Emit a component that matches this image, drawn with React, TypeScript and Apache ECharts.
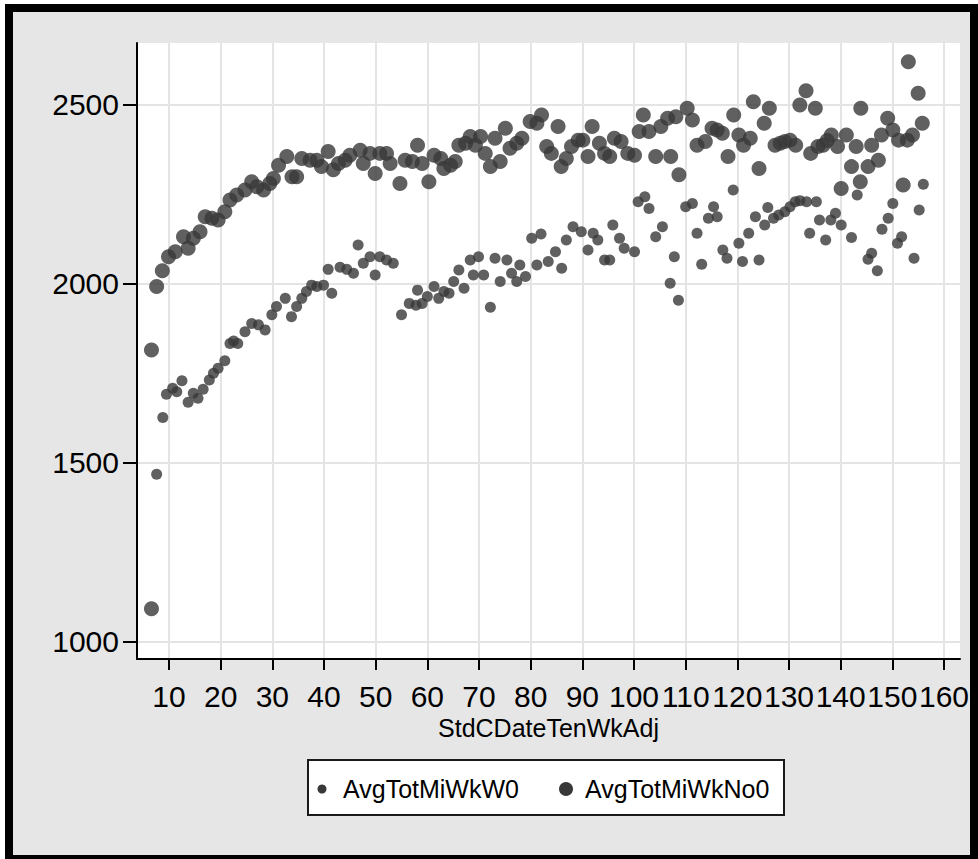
import { useEffect, useRef } from 'react';
import * as echarts from 'echarts';

const FONT = '"Liberation Sans", Arial, sans-serif';

const X_TICKS = [10, 20, 30, 40, 50, 60, 70, 80, 90, 100, 110, 120, 130, 140, 150, 160];
const Y_TICKS = [1000, 1500, 2000, 2500];
const X_MIN = 3.8;
const X_MAX = 163.1;
const Y_MIN = 951.7;
const Y_MAX = 2672.3;

const SERIES_W0 = 'AvgTotMiWkW0';
const SERIES_NO0 = 'AvgTotMiWkNo0';
const X_TITLE = 'StdCDateTenWkAdj';

// [StdCDateTenWkAdj, AvgTotMiWkW0]
const W0: [number, number][] = [
  [7.6, 1468], [8.8, 1626], [9.5, 1691], [10.7, 1708], [11.5, 1698], [12.5, 1729], [13.7, 1669],
  [14.7, 1694], [15.6, 1680], [16.6, 1705], [17.8, 1731], [18.6, 1750], [19.5, 1764], [20.8, 1785],
  [21.8, 1833], [22.5, 1840], [23.3, 1833], [24.7, 1866], [26.0, 1889], [27.3, 1885], [28.6, 1871],
  [29.9, 1913], [30.8, 1936], [32.5, 1959], [33.7, 1908], [34.7, 1936], [35.7, 1959], [36.6, 1978],
  [37.6, 1996], [38.6, 1992], [39.9, 1996], [40.8, 2040], [41.5, 1973], [43.1, 2046], [44.4, 2040],
  [45.7, 2029], [46.6, 2108], [47.6, 2057], [48.9, 2075], [49.9, 2024], [50.8, 2075], [52.1, 2066],
  [53.4, 2057], [55.0, 1913], [56.5, 1945], [57.8, 1940], [58.1, 1982], [59.0, 1945], [60.0, 1964],
  [61.3, 1992], [62.2, 1959], [63.2, 1978], [64.2, 1973], [65.1, 2006], [66.1, 2038], [67.1, 1987],
  [68.3, 2066], [68.9, 2024], [69.9, 2075], [70.9, 2024], [72.2, 1934], [73.1, 2071], [74.1, 2006],
  [75.4, 2066], [76.3, 2029], [77.3, 2006], [77.9, 2052], [79.0, 2020], [80.2, 2127], [81.2, 2052],
  [82.0, 2139], [83.4, 2062], [84.8, 2089], [86.0, 2043], [86.9, 2122], [88.2, 2159], [89.8, 2145],
  [91.1, 2094], [92.1, 2141], [93.0, 2122], [94.3, 2066], [95.3, 2066], [95.9, 2164], [97.2, 2127],
  [98.1, 2099], [100.1, 2089], [100.8, 2229], [102.1, 2243], [102.9, 2210], [104.2, 2131], [105.5, 2159],
  [107.0, 2001], [107.8, 2075], [108.6, 1954], [110.0, 2215], [111.3, 2224], [112.2, 2141], [113.1, 2054],
  [114.4, 2183], [115.4, 2215], [116.1, 2187], [117.2, 2094], [118.0, 2071], [119.2, 2262], [120.3, 2113],
  [121.0, 2062], [122.2, 2141], [123.5, 2187], [124.2, 2066], [125.3, 2164], [125.9, 2213], [127.0, 2183],
  [128.0, 2192], [129.2, 2201], [130.2, 2215], [131.2, 2229], [132.1, 2232], [133.4, 2229], [134.0, 2141],
  [135.3, 2229], [135.9, 2178], [137.1, 2122], [138.1, 2178], [139.0, 2197], [140.1, 2164], [142.1, 2129],
  [143.2, 2248], [145.3, 2068], [146.0, 2085], [147.1, 2036], [148.0, 2152], [149.2, 2183], [150.1, 2224],
  [151.0, 2113], [151.8, 2131], [154.2, 2071], [155.2, 2206], [156.0, 2278],
];

// [StdCDateTenWkAdj, AvgTotMiWkNo0]
const NO0: [number, number][] = [
  [6.6, 1092], [6.6, 1815], [7.6, 1992], [8.7, 2036], [9.9, 2075], [11.2, 2089], [12.8, 2131],
  [13.7, 2099], [14.7, 2127], [16.0, 2145], [17.0, 2187], [18.3, 2183], [19.5, 2178], [20.8, 2201],
  [21.8, 2234], [23.1, 2248], [24.7, 2262], [26.0, 2285], [27.0, 2271], [28.3, 2262], [29.5, 2280],
  [30.2, 2294], [31.2, 2331], [32.8, 2355], [33.8, 2299], [34.7, 2299], [35.7, 2350], [37.3, 2345],
  [38.6, 2345], [39.5, 2327], [40.8, 2369], [41.8, 2318], [42.8, 2336], [44.1, 2345], [45.0, 2359],
  [47.0, 2373], [47.6, 2336], [48.9, 2364], [49.9, 2308], [50.8, 2364], [52.1, 2364], [52.8, 2336],
  [54.7, 2280], [55.7, 2345], [57.1, 2341], [58.1, 2387], [59.0, 2336], [60.3, 2285], [61.3, 2359],
  [62.6, 2350], [63.2, 2322], [64.5, 2331], [65.4, 2341], [66.1, 2387], [67.4, 2392], [68.3, 2411],
  [69.3, 2387], [70.3, 2411], [71.2, 2364], [72.2, 2327], [73.1, 2406], [74.1, 2341], [75.1, 2434],
  [76.0, 2378], [77.3, 2392], [78.3, 2406], [79.9, 2453], [81.2, 2448], [82.1, 2471], [83.1, 2383],
  [84.0, 2364], [85.3, 2439], [85.9, 2327], [86.9, 2350], [87.9, 2383], [89.2, 2401], [90.1, 2401],
  [91.1, 2355], [91.9, 2439], [93.3, 2392], [94.3, 2364], [95.3, 2355], [96.2, 2406], [97.5, 2397],
  [98.8, 2364], [100.1, 2359], [101.0, 2425], [101.8, 2471], [102.9, 2425], [104.2, 2355], [105.2, 2439],
  [106.5, 2462], [107.1, 2355], [108.1, 2466], [108.7, 2304], [110.3, 2490], [111.3, 2457], [112.2, 2387],
  [113.8, 2397], [115.1, 2434], [116.1, 2429], [117.1, 2420], [118.2, 2355], [119.3, 2471], [120.3, 2415],
  [121.2, 2387], [122.5, 2406], [123.1, 2508], [124.2, 2322], [125.2, 2448], [126.2, 2490], [127.3, 2387],
  [128.3, 2392], [129.2, 2397], [130.2, 2401], [131.3, 2387], [132.1, 2499], [133.3, 2539], [134.2, 2364],
  [135.1, 2490], [135.6, 2383], [136.6, 2387], [137.4, 2400], [138.2, 2415], [139.4, 2383], [140.1, 2266],
  [141.1, 2415], [142.1, 2327], [143.0, 2383], [143.8, 2285], [143.9, 2490], [145.3, 2327], [146.0, 2387],
  [147.3, 2345], [147.9, 2415], [149.1, 2462], [150.1, 2429], [151.2, 2401], [152.1, 2276], [152.9, 2401],
  [153.1, 2620], [153.9, 2415], [155.0, 2532], [155.8, 2448],
];

const MARK = '#383838';

export default function App() {
  const ref = useRef<HTMLDivElement>(null);

  useEffect(() => {
    if (!ref.current) return;
    const chart = echarts.init(ref.current, undefined, { renderer: 'svg' });
    const legendFont = { fontFamily: FONT, fontSize: 25, fill: '#000' };
    chart.setOption({
      animation: false,
      grid: {
        left: 137, top: 43, width: 823, height: 616,
        show: true, backgroundColor: '#ffffff', borderWidth: 0,
      },
      xAxis: {
        type: 'value', min: X_MIN, max: X_MAX,
        name: X_TITLE, nameLocation: 'middle', nameGap: 56,
        nameTextStyle: { fontFamily: FONT, fontSize: 25, color: '#000' },
        axisLine: { show: true, onZero: false, lineStyle: { color: '#000', width: 2 } },
        axisTick: { show: true, length: 11, lineStyle: { color: '#000', width: 2 }, customValues: X_TICKS },
        axisLabel: {
          customValues: X_TICKS, margin: 22, fontFamily: FONT, fontSize: 30, color: '#000',
          showMinLabel: true, showMaxLabel: true, hideOverlap: false,
          formatter: (v: number) => String(v),
        },
        splitLine: { show: true, lineStyle: { color: '#e4e4e4', width: 2 } },
      },
      yAxis: {
        type: 'value', min: Y_MIN, max: Y_MAX,
        axisLine: { show: true, onZero: false, lineStyle: { color: '#000', width: 2 } },
        axisTick: { show: true, length: 14, lineStyle: { color: '#000', width: 2 }, customValues: Y_TICKS },
        axisLabel: {
          customValues: Y_TICKS, margin: 18, fontFamily: FONT, fontSize: 30, color: '#000',
          showMinLabel: true, showMaxLabel: true, hideOverlap: false,
          formatter: (v: number) => String(v),
        },
        splitLine: { show: true, lineStyle: { color: '#e4e4e4', width: 2 } },
      },
      graphic: [
        {
          type: 'group', z: 10,
          children: [
            {
              type: 'rect', shape: { x: 308, y: 760, width: 476, height: 55 },
              style: { fill: '#ffffff', stroke: '#1a1a1a', lineWidth: 2 },
            },
            { type: 'circle', shape: { cx: 322, cy: 789, r: 4.5 }, style: { fill: MARK } },
            {
              type: 'text', x: 343, y: 789,
              style: { text: SERIES_W0, ...legendFont, verticalAlign: 'middle', align: 'left' },
            },
            { type: 'circle', shape: { cx: 566, cy: 789, r: 7 }, style: { fill: MARK } },
            {
              type: 'text', x: 585, y: 789,
              style: { text: SERIES_NO0, ...legendFont, verticalAlign: 'middle', align: 'left' },
            },
          ],
        },
      ],
      series: [
        {
          type: 'scatter', name: SERIES_W0, data: W0, symbol: 'circle', symbolSize: 11,
          itemStyle: { color: MARK },
        },
        {
          type: 'scatter', name: SERIES_NO0, data: NO0, symbol: 'circle', symbolSize: 15,
          itemStyle: { color: MARK },
        },
      ],
    });
    return () => chart.dispose();
  }, []);

  return (
    <div style={{ position: 'fixed', left: 0, top: 0, width: 978, height: 859, background: '#ffffff', overflow: 'hidden' }}>
      <div style={{ position: 'absolute', left: 5, top: 4, width: 973, height: 855, background: '#000000' }} />
      <div style={{ position: 'absolute', left: 13, top: 12, width: 957, height: 843, background: '#e6e6e6' }} />
      <div ref={ref} style={{ position: 'absolute', left: 0, top: 0, width: 978, height: 859 }} />
    </div>
  );
}
